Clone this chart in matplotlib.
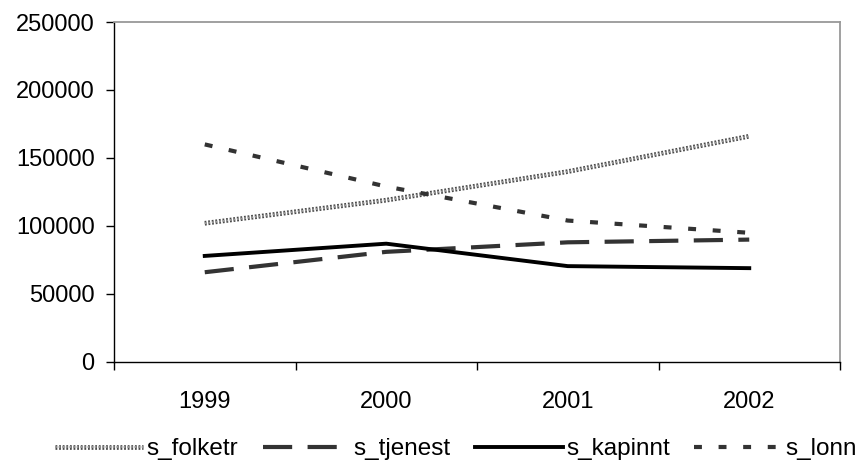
import matplotlib
matplotlib.use("Agg")
import matplotlib.pyplot as plt
import matplotlib.patheffects as pe

years = ["1999", "2000", "2001", "2002"]
s_folketr = [102000, 119000, 140000, 166000]
s_tjenest = [66000, 81000, 88000, 90000]
s_kapinnt = [78000, 87000, 70500, 69000]
s_lonn = [160000, 129000, 104000, 95000]

plt.rcParams['font.family'] = ['Liberation Sans', 'DejaVu Sans']
plt.rcParams['font.size'] = 17

fig = plt.figure(figsize=(8.56, 4.75), dpi=100)
ax = fig.add_axes([114 / 856, 1 - 362 / 475, 726 / 856, 340 / 475])

x = range(len(years))
# patterned grey line, roughly like the Excel texture
ax.plot(x, s_folketr, color='#9a9a9a', lw=1.3, ls=(0, (1, 1)),
        path_effects=[pe.Stroke(linewidth=3.4, foreground='#4a4a4a'), pe.Normal()],
        label='s_folketr')
ax.plot(x, s_tjenest, color='#333333', lw=3, ls=(0, (7, 3.7)), label='s_tjenest')
ax.plot(x, s_kapinnt, color='black', lw=2.8, label='s_kapinnt')
ax.plot(x, s_lonn, color='#333333', lw=3, ls=(0, (1.9, 4.0)), label='s_lonn')

ax.set_xlim(-0.5, 3.5)
ax.set_ylim(0, 250000)
ax.set_yticks(range(0, 250001, 50000))
# category boundaries get the tick marks, labels sit in the middle
ax.set_xticks([i + 0.5 for i in range(-1, 4)])
ax.set_xticklabels([])
ax.set_xticks(list(x), minor=True)
ax.set_xticklabels(years, minor=True)
ax.tick_params(axis='x', which='major', direction='out', length=5.5, width=1)
ax.tick_params(axis='x', which='minor', length=0, pad=21)
ax.tick_params(axis='y', direction='out', length=6, width=1, pad=8)

for side in ['top', 'right']:
    ax.spines[side].set_color('#999999')
    ax.spines[side].set_linewidth(1.3)
ax.spines['left'].set_linewidth(1)
ax.spines['bottom'].set_linewidth(1)

fig.legend(loc='center', bbox_to_anchor=(0.533, 1 - 449 / 475), ncol=4, frameon=False,
           handlelength=3.6, handletextpad=0.15, columnspacing=1.0, fontsize=17.5,
           borderaxespad=0, borderpad=0)

fig.savefig('out.png', dpi=100)
